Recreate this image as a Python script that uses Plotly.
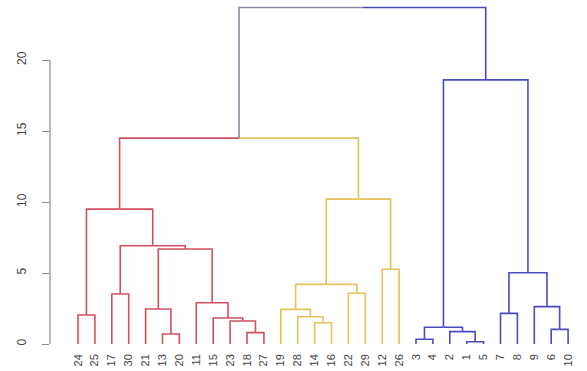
import plotly.graph_objects as go

# ---- data ----
leaf_labels = ["24", "25", "17", "30", "21", "13", "20", "11", "15", "23", "18", "27",
               "19", "28", "14", "16", "22", "29", "12", "26",
               "3", "4", "2", "1", "5", "7", "8", "9", "6", "10"]
leaf_cluster = [0] * 12 + [1] * 8 + [2] * 10
cluster_colors = ["#D0505F", "#E6C25A", "#4B4BC0"]
root_color = "#8C8CA0"

# R-style merge list: negative = leaf position (1-based), positive = earlier merge number
merge_left = [-1, -3, -6, -5, -11, -10, -9, -8, 4, 2, 1,
              -15, -14, -13, -17, 14, -19, 16, 11,
              -21, -24, -23, 20, -26, -29, -28, 24, 23, 19]
merge_right = [-2, -4, -7, 3, -12, 5, 6, 7, 8, 9, 10,
               -16, 12, 13, -18, 15, -20, 17, 18,
               -22, -25, 21, 22, -27, -30, 25, 26, 27, 28]
merge_height = [2.04, 3.52, 0.70, 2.46, 0.80, 1.62, 1.83, 2.90, 6.69, 6.92, 9.50,
                1.50, 1.92, 2.44, 3.57, 4.20, 5.26, 10.2, 14.5,
                0.33, 0.16, 0.87, 1.18, 2.16, 1.03, 2.63, 5.02, 18.6, 23.7]
y_ticks = [0, 5, 10, 15, 20]

# ---- derive node geometry ----
node_x, node_h, node_clusters = {}, {}, {}

def key(n):
    return ("L", -n) if n < 0 else ("M", n)

for i in range(1, len(leaf_labels) + 1):
    node_x[("L", i)] = i
    node_h[("L", i)] = 0.0
    node_clusters[("L", i)] = {leaf_cluster[i - 1]}

for m, (a, b, h) in enumerate(zip(merge_left, merge_right, merge_height), start=1):
    ka, kb = key(a), key(b)
    node_x[("M", m)] = (node_x[ka] + node_x[kb]) / 2
    node_h[("M", m)] = h
    node_clusters[("M", m)] = node_clusters[ka] | node_clusters[kb]

def color_of(k):
    c = node_clusters[k]
    return cluster_colors[next(iter(c))] if len(c) == 1 else root_color

segs = {}
for m, (a, b, h) in enumerate(zip(merge_left, merge_right, merge_height), start=1):
    px = node_x[("M", m)]
    for child in (a, b):
        kc = key(child)
        col = color_of(kc)
        xs, ys = segs.setdefault(col, ([], []))
        cx, ch = node_x[kc], node_h[kc]
        xs += [px, cx, cx, None]
        ys += [h, h, ch, None]

fig = go.Figure()
for col, (xs, ys) in segs.items():
    fig.add_trace(go.Scatter(x=xs, y=ys, mode="lines",
                             line=dict(color=col, width=1.6),
                             hoverinfo="skip", showlegend=False))

W, H = 587, 371
px_per_x = 16.9
left = 50
x0 = 1 - (78 - left) / px_per_x
x1 = x0 + (W - left) / px_per_x
b = 24
plot_h = H - b
px_per_y = 14.2
ymax = 344 / px_per_y
ymin = ymax - plot_h / px_per_y

fig.add_shape(type="line", xref="paper", yref="y", x0=0, x1=0,
              y0=y_ticks[0], y1=y_ticks[-1], line=dict(color="#888888", width=1.2))

fig.update_layout(
    width=W, height=H,
    margin=dict(l=left, r=0, t=0, b=b, autoexpand=False),
    paper_bgcolor="white", plot_bgcolor="white",
    font=dict(family="Liberation Sans", size=11, color="#444444"),
    xaxis=dict(range=[x0, x1], tickmode="array", automargin=False,
               tickvals=list(range(1, len(leaf_labels) + 1)),
               ticktext=leaf_labels, tickangle=-90, showgrid=False,
               zeroline=False, showline=False, ticks="",
               ticklabelstandoff=4,
               tickfont=dict(size=11, color="#444444")),
    yaxis=dict(range=[ymin, ymax], tickmode="array", tickvals=y_ticks,
               automargin=False,
               ticktext=[str(v) for v in y_ticks], tickangle=-90,
               showgrid=False, zeroline=False, showline=False,
               ticks="outside", ticklen=7, tickcolor="#888888", tickwidth=1.2,
               ticklabelstandoff=11,
               tickfont=dict(size=12, color="#444444")),
)

fig.write_html("out.html", config={"displayModeBar": False},
               post_script="document.body.style.margin='0';")
